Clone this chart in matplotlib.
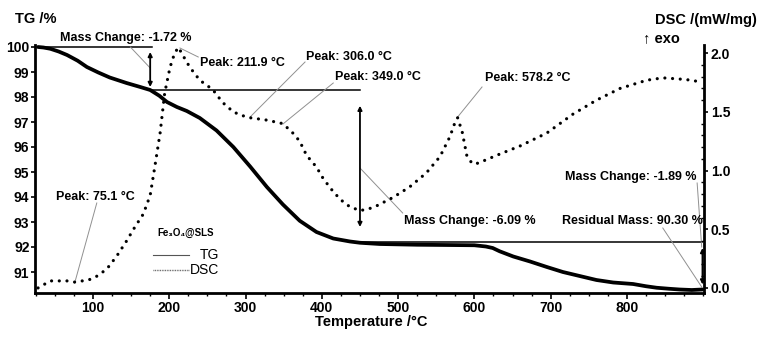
import matplotlib
matplotlib.use("Agg")
import matplotlib.pyplot as plt
from matplotlib.ticker import MultipleLocator

plt.rcParams['font.family'] = ['Liberation Sans', 'DejaVu Sans']

# ---- data ----
tg_temp = [28, 35, 44, 55, 66, 80, 92, 107, 122, 144, 162, 175, 187, 197, 210,
           223, 240, 262, 284, 306, 328, 349, 371, 393, 415, 437, 450, 476, 525,
           600, 615, 624, 633, 651, 673, 695, 716, 738, 760, 782, 808, 825, 839,
           855, 869, 885, 899]
tg_mass = [100.0, 99.98, 99.93, 99.82, 99.68, 99.45, 99.2, 98.98, 98.78, 98.56,
           98.4, 98.28, 98.05, 97.8, 97.6, 97.44, 97.16, 96.66, 96.0, 95.22,
           94.4, 93.7, 93.05, 92.6, 92.34, 92.22, 92.17, 92.12, 92.09, 92.07,
           92.02, 91.96, 91.83, 91.62, 91.42, 91.2, 91.0, 90.84, 90.68, 90.58,
           90.52, 90.43, 90.37, 90.33, 90.30, 90.28, 90.30]

dsc_temp = [28, 36, 44, 55, 66, 76, 86, 95, 105, 118, 131, 144, 155, 166, 175,
            181, 188, 194, 201, 207, 212, 218, 227, 240, 257, 270, 284, 295, 306,
            328, 349, 362, 371, 380, 393, 402, 415, 425, 437, 450, 460, 472, 493,
            515, 537, 555, 568, 574, 578, 584, 590, 597, 603, 611, 633, 660, 695,
            729, 760, 791, 826, 847, 869, 885, 899]
dsc_val = [0.0, 0.03, 0.06, 0.06, 0.06, 0.05, 0.06, 0.07, 0.10, 0.16, 0.27, 0.40,
           0.52, 0.63, 0.79, 1.03, 1.32, 1.66, 1.88, 2.0, 2.05, 1.98, 1.88, 1.77,
           1.69, 1.58, 1.50, 1.47, 1.45, 1.43, 1.40, 1.32, 1.25, 1.13, 1.03, 0.93,
           0.82, 0.75, 0.69, 0.66, 0.67, 0.70, 0.77, 0.86, 0.98, 1.12, 1.29, 1.40,
           1.45, 1.33, 1.13, 1.06, 1.06, 1.08, 1.14, 1.21, 1.32, 1.48, 1.60, 1.70,
           1.77, 1.79, 1.78, 1.77, 1.75]

x_ticks = [100, 200, 300, 400, 500, 600, 700, 800]
tg_ticks = [91, 92, 93, 94, 95, 96, 97, 98, 99, 100]
dsc_ticks = [0.0, 0.5, 1.0, 1.5, 2.0]

# step levels (TG)
lvl0, lvl1, lvl2, lvl_end = 100.0, 98.28, 92.19, 90.30
t_step1, t_step2, t_end = 177, 450, 899

fig = plt.figure(figsize=(7.62, 3.41), dpi=100)
ax = fig.add_axes([35/762, 48/341, (704-35)/762, (293-45)/341])
ax2 = ax.twinx()

ax.set_xlim(24, 901)
ax.set_ylim(90.16, 100.08)
ax2.set_ylim(-0.043, 2.07)

ax.plot(tg_temp, tg_mass, color='black', lw=2.7, solid_capstyle='round',
        solid_joinstyle='round', zorder=5)
ax2.plot(dsc_temp, dsc_val, color='black', lw=2.3, linestyle=(0, (0.01, 2.4)),
         dash_capstyle='round')

# horizontal step lines
ax.plot([31, t_step1], [lvl0, lvl0], color='black', lw=1.1)
ax.plot([t_step1, t_step2], [lvl1, lvl1], color='black', lw=1.1)
ax.plot([t_step2, t_end], [lvl2, lvl2], color='black', lw=1.1)

# double-headed arrows
arrow_kw = dict(arrowstyle='<|-|>', color='black', lw=1.3,
                mutation_scale=6, shrinkA=0, shrinkB=0)
ax.annotate('', xy=(175, 99.8), xytext=(175, 98.4), arrowprops=arrow_kw)
ax.annotate('', xy=(450, 97.65), xytext=(450, 92.8), arrowprops=arrow_kw)
ax.annotate('', xy=(899, 91.96), xytext=(899, 90.5), arrowprops=arrow_kw,
            annotation_clip=False)

# annotation texts with gray leader lines
tkw = dict(fontsize=9, fontweight='bold', va='center', ha='left', clip_on=False)
notes = [
    ("Mass Change: -1.72 %", 57, 100.36, (149, 100.0), (175, 99.16)),
    ("Peak: 211.9 \u00b0C", 240, 99.36, (214, 99.96), (238, 99.6)),
    ("Peak: 306.0 \u00b0C", 379, 99.6, (378, 99.4), (306, 97.2)),
    ("Peak: 349.0 \u00b0C", 417, 98.8, (415, 98.56), (349, 96.92)),
    ("Peak: 578.2 \u00b0C", 614, 98.76, (610, 98.4), (577, 97.16)),
    ("Peak: 75.1 \u00b0C", 51, 94.0, (105, 93.76), (76, 90.56)),
    ("Mass Change: -6.09 %", 508, 93.04, (450, 95.16), (506, 93.36)),
    ("Mass Change: -1.89 %", 719, 94.8, (892, 94.56), (898, 92.0)),
    ("Residual Mass: 90.30 %", 715, 93.04, (847, 92.76), (898, 90.4)),
]
for txt, tx, ty, p1, p2 in notes:
    ax.text(tx, ty, txt, **tkw)
    ax.plot([p1[0], p2[0]], [p1[1], p2[1]], color='#909090', lw=0.7, clip_on=False)

# legend block
ax.text(184, 92.56, "Fe\u2083O\u2084@SLS", fontsize=7, fontweight='bold',
        va='center', ha='left')
ax.plot([179, 226], [91.68, 91.68], color='#555555', lw=0.8)
ax.plot([179, 226], [91.08, 91.08], color='#555555', lw=1.0, linestyle=(0, (0.6, 0.6)))
ax.text(266, 91.68, "TG", fontsize=10, va='center', ha='right')
ax.text(266, 91.08, "DSC", fontsize=10, va='center', ha='right')

# axes styling
for a in (ax, ax2):
    a.spines['top'].set_visible(False)
    for s in ('left', 'right', 'bottom'):
        a.spines[s].set_linewidth(2.0)
ax.spines['right'].set_visible(False)
ax2.spines['left'].set_visible(False)
ax2.spines['bottom'].set_visible(False)

ax.set_xticks(x_ticks)
ax.set_yticks(tg_ticks)
ax2.set_yticks(dsc_ticks)
ax2.set_yticklabels([f"{v:.1f}" for v in dsc_ticks])
ax.xaxis.set_minor_locator(MultipleLocator(25))
ax2.yaxis.set_minor_locator(MultipleLocator(0.1))

ax.tick_params(axis='x', which='major', direction='out', length=4, width=1.2,
               labelsize=10, pad=2)
ax.tick_params(axis='x', which='minor', direction='out', length=2, width=1.0)
ax.tick_params(axis='y', which='major', direction='out', length=3, width=1.2,
               labelsize=10, pad=1)
ax2.tick_params(axis='y', which='major', direction='out', length=3, width=1.2,
                labelsize=10, pad=2)
ax2.tick_params(axis='y', which='minor', direction='in', length=2, width=1.0)
for lab in ax.get_xticklabels() + ax.get_yticklabels() + ax2.get_yticklabels():
    lab.set_fontweight('bold')

fig.text(371/762, 1 - 322/341, "Temperature /\u00b0C", fontsize=10.5,
         fontweight='bold', ha='center', va='center')
fig.text(15/762, 1 - 19/341, "TG /%", fontsize=10.5, fontweight='bold',
         ha='left', va='center')
fig.text(655/762, 1 - 20/341, "DSC /(mW/mg)", fontsize=10.5, fontweight='bold',
         ha='left', va='center')
fig.text(643/762, 1 - 38/341, "\u2191 exo", fontsize=10.5, fontweight='bold',
         ha='left', va='center')

fig.savefig("out.png", dpi=100)
